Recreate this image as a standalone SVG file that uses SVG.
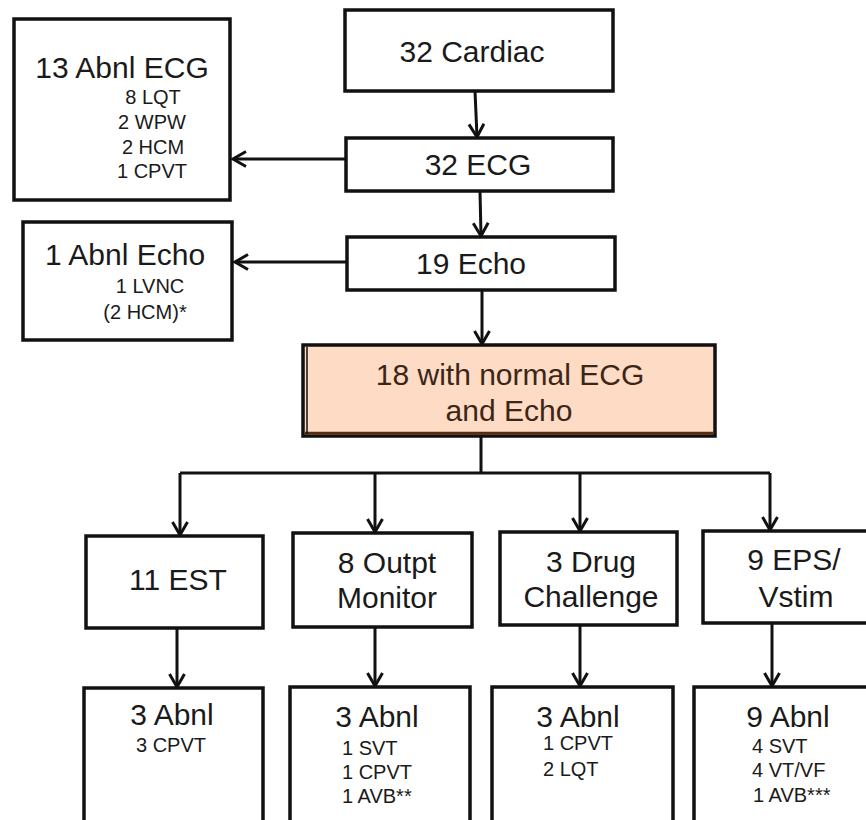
<svg xmlns="http://www.w3.org/2000/svg" width="866" height="820" viewBox="0 0 866 820">
<style>
  .box { fill: #ffffff; stroke: #111111; stroke-width: 3.5; }
  .hl { fill: #fddbc4; stroke: #111111; stroke-width: 3.5; }
  .big { font-family: "Liberation Sans", Arial, sans-serif; font-size: 30px; fill: #1a1a1a; text-anchor: middle; }
  .hlt { font-family: "Liberation Sans", Arial, sans-serif; font-size: 30px; fill: #3b2618; text-anchor: middle; }
  .sm { font-family: "Liberation Sans", Arial, sans-serif; font-size: 20px; fill: #1a1a1a; }
  .c { text-anchor: middle; }
  .conn { fill: none; stroke: #111111; stroke-width: 3; }
  .arr { marker-end: url(#ah); }
</style>
<defs>
  <marker id="ah" viewBox="0 0 18 18" markerUnits="userSpaceOnUse" markerWidth="18" markerHeight="18" refX="15" refY="9" orient="auto">
    <path d="M2,1.5 L15,9 L2,16.5" fill="none" stroke="#111111" stroke-width="3" stroke-linejoin="miter"/>
  </marker>
</defs>
<rect width="866" height="820" fill="#ffffff"/>

<g id="connectors">
  <line class="conn arr" x1="475" y1="91" x2="477" y2="137"/>
  <line class="conn arr" x1="480" y1="191" x2="481" y2="236"/>
  <line class="conn arr" x1="482" y1="290" x2="482" y2="344"/>
  <line class="conn arr" x1="346" y1="159" x2="233" y2="159"/>
  <line class="conn arr" x1="347" y1="262" x2="235" y2="262"/>
  <polyline class="conn" points="481,436 481,473"/>
  <polyline class="conn" points="180,473 770,473"/>
  <line class="conn arr" x1="180" y1="473" x2="180" y2="535"/>
  <line class="conn arr" x1="375" y1="473" x2="375" y2="532"/>
  <line class="conn arr" x1="580" y1="473" x2="580" y2="531"/>
  <line class="conn arr" x1="770" y1="473" x2="770" y2="530"/>
  <line class="conn arr" x1="177" y1="628" x2="177" y2="687"/>
  <line class="conn arr" x1="375" y1="627" x2="375" y2="686"/>
  <line class="conn arr" x1="580" y1="625" x2="580" y2="686"/>
  <line class="conn arr" x1="772" y1="623" x2="772" y2="686"/>
</g>

<g id="cardiac">
  <rect class="box" x="345" y="10" width="268" height="81"/>
  <text class="big" x="472" y="62">32 Cardiac</text>
</g>
<g id="ecg">
  <rect class="box" x="346" y="138" width="267" height="53"/>
  <text class="big" x="478" y="175">32 ECG</text>
</g>
<g id="echo">
  <rect class="box" x="347" y="237" width="268" height="53"/>
  <text class="big" x="471" y="274">19 Echo</text>
</g>
<g id="abnl-ecg">
  <rect class="box" x="14" y="19" width="216" height="181"/>
  <text class="big" x="122" y="78">13 Abnl ECG</text>
  <text class="sm c" x="153" y="104">8 LQT</text>
  <text class="sm c" x="152" y="129">2 WPW</text>
  <text class="sm c" x="153" y="154">2 HCM</text>
  <text class="sm c" x="152" y="178">1 CPVT</text>
</g>
<g id="abnl-echo">
  <rect class="box" x="23" y="222" width="209" height="118"/>
  <text class="big" x="125" y="265">1 Abnl Echo</text>
  <text class="sm c" x="150" y="293">1 LVNC</text>
  <text class="sm c" x="145" y="319">(2 HCM)*</text>
</g>
<g id="normal">
  <rect class="hl" x="303" y="345" width="412" height="91"/>
  <line x1="305" y1="433" x2="713" y2="433" stroke="#5b2c0f" stroke-width="2.5"/>
  <line x1="307" y1="347" x2="307" y2="434" stroke="#111111" stroke-width="1.5"/>
  <text class="hlt" x="510" y="385">18 with normal ECG</text>
  <text class="hlt" x="509" y="421">and Echo</text>
</g>
<g id="est">
  <rect class="box" x="86" y="536" width="177" height="92"/>
  <text class="big" x="178" y="590">11 EST</text>
</g>
<g id="monitor">
  <rect class="box" x="293" y="533" width="179" height="94"/>
  <text class="big" x="387" y="573">8 Outpt</text>
  <text class="big" x="387" y="608">Monitor</text>
</g>
<g id="drug">
  <rect class="box" x="500" y="532" width="177" height="93"/>
  <text class="big" x="591" y="572">3 Drug</text>
  <text class="big" x="591" y="607">Challenge</text>
</g>
<g id="eps">
  <rect class="box" x="703" y="531" width="175" height="92"/>
  <text class="big" x="794" y="570">9 EPS/</text>
  <text class="big" x="796" y="607">Vstim</text>
</g>
<g id="est-abnl">
  <rect class="box" x="84" y="688" width="179" height="145"/>
  <text class="big" x="172" y="725">3 Abnl</text>
  <text class="sm c" x="171" y="752">3 CPVT</text>
</g>
<g id="monitor-abnl">
  <rect class="box" x="290" y="687" width="180" height="145"/>
  <text class="big" x="377" y="727">3 Abnl</text>
  <text class="sm" x="342" y="755">1 SVT</text>
  <text class="sm" x="342" y="779">1 CPVT</text>
  <text class="sm" x="342" y="803">1 AVB**</text>
</g>
<g id="drug-abnl">
  <rect class="box" x="492" y="687" width="181" height="145"/>
  <text class="big" x="578" y="727">3 Abnl</text>
  <text class="sm" x="543" y="750">1 CPVT</text>
  <text class="sm" x="543" y="776">2 LQT</text>
</g>
<g id="eps-abnl">
  <rect class="box" x="694" y="687" width="184" height="145"/>
  <text class="big" x="788" y="727">9 Abnl</text>
  <text class="sm" x="752" y="753">4 SVT</text>
  <text class="sm" x="752" y="777">4 VT/VF</text>
  <text class="sm" x="753" y="802">1 AVB***</text>
</g>
</svg>
